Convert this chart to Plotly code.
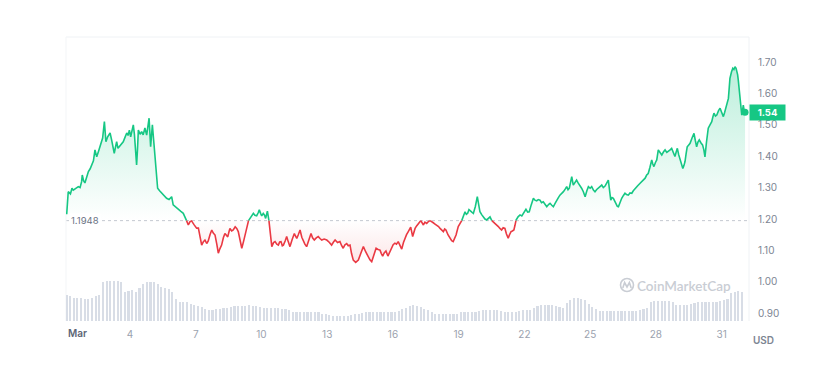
import numpy as np
import plotly.graph_objects as go

# ---------------- data ----------------
baseline = 1.1948
last_price = 1.54

# time in days (March; 1.0 = Mar 1 00:00)
days = [1.11,1.18,1.28,1.35,1.41,1.52,1.64,1.72,1.79,1.82,1.88,1.94,2.02,2.10,2.18,2.25,2.33,2.40,2.48,2.56,2.63,2.70,2.75,2.83,2.90,2.98,3.09,3.16,3.21,3.28,3.34,3.39,3.45,3.51,3.60,3.69,3.77,3.85,3.91,3.97,4.03,4.09,4.15,4.20,4.23,4.30,4.34,4.38,4.46,4.53,4.60,4.68,4.76,4.82,4.87,4.94,5.02,5.08,5.14,5.20,5.26,5.35,5.45,5.55,5.67,5.78,5.90,5.97,6.08,6.20,6.32,6.43,6.55,6.66,6.74,6.81,6.92,7.04,
        7.12,7.27,7.35,7.42,7.50,7.57,7.65,7.73,7.80,7.88,7.96,8.03,8.10,8.18,8.26,8.33,8.40,8.46,8.52,8.56,8.64,8.71,8.80,8.87,8.94,9.02,9.10,9.18,9.25,9.31,9.37,9.48,9.55,9.63,9.70,9.78,9.85,9.90,9.96,10.01,10.08,10.14,10.19,10.27,10.34,10.40,10.47,10.55,10.62,10.70,10.77,10.83,10.89,10.95,11.00,11.08,11.15,11.22,11.30,11.40,11.50,11.55,11.61,11.68,11.76,11.84,11.91,11.98,12.06,12.16,12.26,12.33,12.41,12.50,12.59,12.67,12.75,12.86,12.98,13.09,13.20,13.28,13.36,13.47,13.58,13.66,13.73,13.81,13.89,13.96,14.04,14.11,14.19,14.30,14.42,14.53,14.65,14.76,14.87,14.95,15.03,
        15.13,15.23,15.32,15.41,15.47,15.53,15.60,15.68,15.77,15.85,15.94,16.01,16.09,16.16,16.24,16.32,16.40,16.48,16.55,16.62,16.70,16.81,16.90,17.01,17.08,17.16,17.27,17.33,17.39,17.46,17.54,17.62,17.69,17.77,17.84,17.92,18.00,18.08,18.15,18.22,18.30,18.36,18.42,18.51,18.60,18.68,18.75,18.82,18.88,18.98,19.06,19.14,19.22,19.29,19.35,19.41,19.47,19.52,19.60,19.67,19.76,19.85,19.91,19.97,20.05,20.12,20.20,20.28,20.36,20.43,20.51,20.58,20.70,20.81,20.88,20.96,21.03,21.11,21.18,21.26,21.32,21.39,21.45,21.52,21.57,21.62,21.71,21.80,21.88,21.95,22.01,22.07,22.15,22.22,22.31,22.41,22.48,22.56,22.63,22.71,22.78,22.86,
        22.94,23.02,23.10,23.17,23.25,23.32,23.40,23.47,23.55,23.62,23.70,23.78,23.86,23.93,23.99,24.05,24.11,24.16,24.23,24.30,24.38,24.45,24.53,24.61,24.69,24.77,24.85,24.92,25.00,25.07,25.15,25.22,25.30,25.37,25.45,25.53,25.60,25.68,25.76,25.83,25.94,26.00,26.06,26.12,26.18,26.24,26.29,26.37,26.44,26.52,26.59,26.66,26.74,26.82,26.90,26.97,27.05,27.17,27.28,27.40,27.51,27.58,27.65,27.73,27.81,27.86,27.91,27.98,28.04,28.11,28.19,28.27,28.35,28.42,28.50,28.57,28.65,28.72,28.80,28.87,28.93,28.98,29.04,29.10,29.17,29.23,29.28,29.33,29.38,29.43,29.50,29.56,29.65,29.74,29.80,29.86,29.92,29.98,30.06,30.13,30.19,30.24,30.31,30.39,30.47,30.55,30.60,30.65,30.72,30.78,30.86,30.93,31.00,31.08,31.14,31.20,31.26,31.31,31.35,31.38,31.45,31.51,31.56,31.61,31.66,31.69,31.73,31.76,31.80,31.84,31.88,31.92,31.96,31.99,32.03,32.07]

price = [1.215,1.287,1.280,1.298,1.292,1.296,1.303,1.300,1.319,1.340,1.322,1.315,1.333,1.351,1.360,1.372,1.385,1.420,1.398,1.415,1.430,1.440,1.458,1.510,1.446,1.462,1.474,1.452,1.436,1.409,1.430,1.446,1.425,1.430,1.440,1.446,1.460,1.474,1.466,1.483,1.462,1.488,1.500,1.470,1.440,1.372,1.420,1.483,1.470,1.478,1.468,1.490,1.467,1.495,1.521,1.430,1.500,1.450,1.398,1.350,1.298,1.290,1.282,1.275,1.266,1.262,1.271,1.245,1.238,1.229,1.224,1.218,1.200,1.181,1.192,1.194,1.182,1.171,
         1.171,1.117,1.128,1.133,1.122,1.130,1.150,1.165,1.155,1.149,1.120,1.091,1.105,1.117,1.140,1.154,1.148,1.143,1.160,1.170,1.162,1.165,1.175,1.170,1.160,1.130,1.107,1.128,1.149,1.175,1.191,1.202,1.210,1.218,1.212,1.210,1.220,1.229,1.218,1.210,1.218,1.212,1.202,1.225,1.195,1.150,1.112,1.125,1.128,1.120,1.117,1.127,1.128,1.115,1.117,1.130,1.144,1.128,1.112,1.135,1.154,1.146,1.138,1.150,1.165,1.142,1.128,1.120,1.112,1.135,1.154,1.140,1.133,1.140,1.144,1.138,1.133,1.136,1.133,1.126,1.117,1.126,1.133,1.125,1.128,1.115,1.107,1.118,1.122,1.115,1.117,1.090,1.069,1.062,1.069,1.090,1.112,1.095,1.080,1.070,1.064,
         1.090,1.107,1.103,1.101,1.090,1.082,1.092,1.098,1.082,1.095,1.107,1.118,1.123,1.120,1.128,1.118,1.104,1.125,1.139,1.150,1.160,1.174,1.144,1.170,1.178,1.186,1.195,1.187,1.181,1.190,1.186,1.192,1.195,1.190,1.188,1.184,1.181,1.176,1.170,1.166,1.160,1.168,1.165,1.150,1.139,1.131,1.128,1.138,1.149,1.176,1.186,1.195,1.212,1.223,1.215,1.218,1.230,1.226,1.222,1.218,1.240,1.271,1.245,1.223,1.214,1.207,1.200,1.197,1.203,1.207,1.195,1.191,1.183,1.176,1.170,1.165,1.172,1.170,1.152,1.139,1.150,1.160,1.162,1.165,1.180,1.197,1.207,1.213,1.210,1.218,1.226,1.231,1.222,1.223,1.245,1.266,1.260,1.258,1.262,1.260,1.252,1.255,
         1.247,1.239,1.246,1.250,1.244,1.239,1.250,1.260,1.268,1.276,1.280,1.287,1.295,1.303,1.293,1.298,1.318,1.335,1.308,1.318,1.324,1.315,1.308,1.298,1.287,1.271,1.290,1.303,1.298,1.303,1.292,1.287,1.294,1.298,1.302,1.308,1.300,1.305,1.315,1.324,1.260,1.268,1.266,1.256,1.245,1.240,1.239,1.255,1.266,1.275,1.282,1.278,1.276,1.283,1.282,1.290,1.298,1.306,1.314,1.322,1.330,1.340,1.345,1.365,1.388,1.375,1.367,1.380,1.388,1.420,1.410,1.404,1.414,1.420,1.412,1.415,1.420,1.425,1.412,1.399,1.414,1.425,1.405,1.388,1.372,1.361,1.370,1.383,1.408,1.430,1.436,1.441,1.458,1.473,1.450,1.430,1.445,1.452,1.442,1.436,1.420,1.398,1.445,1.489,1.500,1.510,1.525,1.537,1.528,1.531,1.545,1.553,1.540,1.526,1.540,1.553,1.570,1.584,1.620,1.648,1.668,1.680,1.676,1.685,1.680,1.674,1.660,1.643,1.612,1.579,1.550,1.531,1.548,1.563,1.545,1.540]

# volume (millions USD) every 4 hours starting Mar 1 02:40
vol_start = 1.11
volume = [26,25,23,23,23,22,22,23,25,26,39,40,40,40,40,39,29,30,31,29,33,37,39,39,39,37,34,33,32,29,
          22,19,19,19,17,16,15,14,12,11,11,12,12,13,13,14,15,15,15,15,16,15,15,14,13,13,13,13,13,12,
          12,11,9.5,9.5,9.5,9.5,9.5,9.5,9.5,9,7.5,7,6,5,5,5,5,5.5,6,7,7.5,8.5,9.5,9.5,9.5,9.5,9.5,9.5,
          9.5,9.5,9.5,10,12,13.5,15,16,15,14,12.5,11,9,7,7,7,7,7,7,7.5,9,9.5,9.5,9.5,9.5,10,11,11,11,
          11,11,10.5,9.5,9.5,9.5,9.5,10.5,11,11,11,13,15.5,16,16,16,16,15,14,13,18,21,23,23,22.5,21,17,
          14,12,10.5,10.5,10.5,10.5,10.5,10.5,10.5,10.5,10.5,10.5,10.5,11,12,13,19,20,20.5,20.5,20,20,
          19,16,16,16,16.5,17,18,19,19,19,19,19,19.5,20,21,22,28,29,30,29]
vol_days = [vol_start + i / 6 for i in range(len(volume))]

x_tick_vals = [4, 7, 10, 13, 16, 19, 22, 25, 28, 31]
x_tick_text = ["4", "7", "10", "13", "16", "19", "22", "25", "28", "31"]
y_tick_vals = [0.90, 1.00, 1.10, 1.20, 1.30, 1.40, 1.50, 1.60, 1.70]

# ---------------- derived series (split at baseline) ----------------
xs, ys = [days[0]], [price[0]]
for i in range(1, len(days)):
    x0, y0, x1, y1 = days[i-1], price[i-1], days[i], price[i]
    if (y0 - baseline) * (y1 - baseline) < 0:
        t = (baseline - y0) / (y1 - y0)
        xs.append(x0 + t * (x1 - x0)); ys.append(baseline)
    xs.append(x1); ys.append(y1)
xs = np.array(xs); ys = np.array(ys)
up = np.maximum(ys, baseline)
lo = np.minimum(ys, baseline)
green_line = [y if y >= baseline else None for y in ys]
red_line = [y if y <= baseline else None for y in ys]

GREEN = "#16c784"
RED = "#ea3943"
FONT = "Inter"

fig = go.Figure()
fig.add_trace(go.Bar(x=vol_days, y=volume, marker=dict(color="#d8dde6", line=dict(width=0)),
                     width=0.075, yaxis="y", hoverinfo="skip"))
base_arr = np.full(len(xs), baseline)
fig.add_trace(go.Scatter(x=xs, y=base_arr, mode="lines", line=dict(width=0), yaxis="y2",
                         hoverinfo="skip"))
fig.add_trace(go.Scatter(x=xs, y=up, mode="lines", line=dict(width=0), yaxis="y2", fill="tonexty",
                         fillgradient=dict(type="vertical",
                                           colorscale=[[0, "rgba(22,199,132,0)"], [1, "rgba(22,199,132,0.30)"]],
                                           start=baseline, stop=1.70),
                         hoverinfo="skip"))
fig.add_trace(go.Scatter(x=xs, y=base_arr, mode="lines", line=dict(width=0), yaxis="y2",
                         hoverinfo="skip"))
fig.add_trace(go.Scatter(x=xs, y=lo, mode="lines", line=dict(width=0), yaxis="y2", fill="tonexty",
                         fillgradient=dict(type="vertical",
                                           colorscale=[[0, "rgba(234,57,67,0.14)"], [1, "rgba(234,57,67,0)"]],
                                           start=1.05, stop=baseline),
                         hoverinfo="skip"))
fig.add_trace(go.Scatter(x=xs, y=green_line, mode="lines", line=dict(color=GREEN, width=1.6),
                         yaxis="y2", connectgaps=False))
fig.add_trace(go.Scatter(x=xs, y=red_line, mode="lines", line=dict(color=RED, width=1.6),
                         yaxis="y2", connectgaps=False))
fig.add_trace(go.Scatter(x=[days[-1]], y=[price[-1]], mode="markers",
                         marker=dict(color=GREEN, size=7), yaxis="y2"))

# target plot area on screen (px): x 66..749, y 37..321 ; page body has 8px margin
OFF = 8
L, R, T, B = 66, 749, 37, 321
W, H = 820 - OFF, 377 - OFF
def px(xp):
    return (xp - L) / (R - L)
def py(yp):
    return (B - yp) / (B - T)

shapes = [
    dict(type="line", xref="paper", yref="y2", x0=0, x1=1, y0=baseline, y1=baseline,
         line=dict(color="#c4c8d0", width=1, dash="dot"), layer="below"),
    dict(type="line", xref="paper", yref="paper", x0=0, x1=1, y0=1, y1=1,
         line=dict(color="#eff2f5", width=1), layer="below"),
    dict(type="line", xref="paper", yref="paper", x0=0, x1=0, y0=0, y1=1,
         line=dict(color="#f3f5f7", width=1), layer="below"),
    dict(type="line", xref="paper", yref="paper", x0=1, x1=1, y0=0, y1=1,
         line=dict(color="#eff2f5", width=1), layer="below"),
    # watermark logo
    dict(type="circle", xref="paper", yref="paper", x0=px(620.5), x1=px(633.5), y0=py(291.5), y1=py(278.5),
         line=dict(color="#c9cdd4", width=1.6), layer="above"),
    dict(type="path", xref="paper", yref="paper",
         path=f"M {px(622.8)} {py(288)} L {px(624.6)} {py(282.5)} L {px(627)} {py(287)} L {px(629.4)} {py(282.5)} L {px(631.2)} {py(288)}",
         line=dict(color="#c9cdd4", width=1.6), layer="above"),
]

annotations = [
    dict(text="Mar", xref="paper", yref="paper", x=0, y=py(333), xanchor="left", yanchor="middle",
         showarrow=False, font=dict(family=FONT, size=10, color="#5d6676", weight=600)),
    dict(text="USD", xref="paper", yref="paper", x=px(751), y=py(339.5), xanchor="left", yanchor="middle",
         showarrow=False, font=dict(family=FONT, size=10, color="#7d8593", weight=600)),
    dict(text=f"{baseline}", xref="paper", yref="y2", x=px(69), y=baseline, xanchor="left", yanchor="middle",
         showarrow=False, bgcolor="white", borderpad=1,
         font=dict(family=FONT, size=9.5, color="#6b7384")),
    dict(text=f"<b>{last_price:.2f}</b>", xref="paper", yref="y2", x=1, y=last_price, xanchor="left",
         yanchor="middle", showarrow=False, bgcolor=GREEN, borderpad=2, width=31, align="center",
         font=dict(family=FONT, size=9.5, color="white")),
    dict(text="CoinMarketCap", xref="paper", yref="paper", x=px(635), y=py(285.5), xanchor="left",
         yanchor="middle", showarrow=False, font=dict(family="Lato", size=13.5, color="#c9cdd4", weight=600)),
]

fig.update_layout(
    width=W, height=H,
    margin=dict(l=L - OFF, r=W - (R - OFF), t=T - OFF, b=H - (B - OFF)),
    paper_bgcolor="white", plot_bgcolor="white",
    showlegend=False, bargap=0,
    shapes=shapes, annotations=annotations,
    xaxis=dict(range=[1.078, 32.25], showgrid=False, zeroline=False, showline=False,
               tickvals=x_tick_vals, ticktext=x_tick_text, ticks="outside", ticklen=4,
               tickcolor="rgba(0,0,0,0)",
               tickfont=dict(family=FONT, size=10, color="#9ba2ae")),
    yaxis=dict(range=[0, 284], visible=False, fixedrange=True),
    yaxis2=dict(range=[0.8752, 1.7796], overlaying="y", side="right", anchor="x",
                showgrid=False, zeroline=False, showline=False,
                tickvals=y_tick_vals, tickformat=".2f", ticks="outside", ticklen=6,
                tickcolor="rgba(0,0,0,0)",
                tickfont=dict(family=FONT, size=10, color="#7d8593")),
)

fig.write_html("out.html")
